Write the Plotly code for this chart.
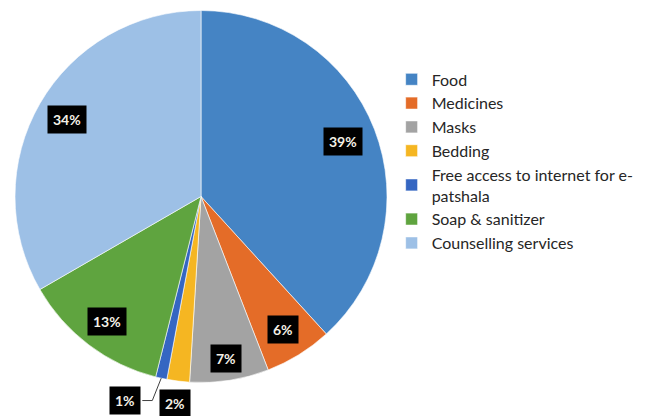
import math
import plotly.graph_objects as go

# Support items requested (share of responses, %)
categories = ["Food", "Medicines", "Masks", "Bedding",
              "Free access to internet for e-<br>patshala",
              "Soap & sanitizer", "Counselling services"]
values = [39, 6, 7, 2, 1, 13, 34]
colors = ["#4584C4", "#E46C28", "#A3A3A3", "#F5B622",
          "#3566C2", "#5FA43F", "#9DC0E6"]

W, H = 656, 416
CX, CY, R = 201, 196.5, 186  # pie centre and radius in pixels

fig = go.Figure(go.Pie(
    labels=categories,
    values=values,
    marker=dict(colors=colors, line=dict(color="white", width=0.6)),
    sort=False,
    direction="clockwise",
    rotation=0,
    textinfo="none",
    hoverinfo="label+value",
    domain=dict(x=[(CX - R) / W, (CX + R) / W],
                y=[(H - CY - R) / H, (H - CY + R) / H]),
))

# Data labels: boxed percentages placed along each slice's mid angle
total = sum(values)
cum = 0
label_radius = [0.82, 0.84, 0.88, 1.12, 1.17, 0.84, 0.83]
label_shift = [0, 0, 0, 0, 8, 0, 0]  # degrees, to separate the two small slices
for v, rr, sh in zip(values, label_radius, label_shift):
    mid = (cum + v / 2) / total * 360
    cum += v
    a = math.radians(mid + sh)
    px = CX + rr * R * math.sin(a)
    py = CY - rr * R * math.cos(a)
    fig.add_annotation(
        x=px / W, y=1 - py / H, xref="paper", yref="paper",
        xanchor="center", yanchor="middle",
        text=f"<b>{v}%</b>", showarrow=False,
        font=dict(family="Lato", size=14, color="#F4F0E6"),
        bgcolor="black", borderpad=5,
    )
    if sh:
        # elbow leader line from the slice edge to the label box
        edge = math.radians(mid)
        ex = CX + R * math.sin(edge)
        ey = CY - R * math.cos(edge)
        bx = px + 17
        fig.add_shape(
            type="path", xref="paper", yref="paper",
            path=(f"M {ex / W} {1 - ey / H} "
                  f"L {(bx + 10) / W} {1 - py / H} "
                  f"L {bx / W} {1 - py / H}"),
            line=dict(color="#404040", width=1),
        )

fig.update_layout(
    width=W, height=H,
    margin=dict(l=0, r=0, t=0, b=0),
    paper_bgcolor="white",
    plot_bgcolor="white",
    font=dict(family="Lato", size=16, color="#262626"),
    legend=dict(
        x=0.597, y=0.85, xanchor="left", yanchor="top",
        font=dict(family="Lato", size=16, color="#262626"),
        itemwidth=30, tracegroupgap=0,
        bgcolor="rgba(0,0,0,0)",
    ),
    showlegend=True,
)

fig.write_html("out.html")
